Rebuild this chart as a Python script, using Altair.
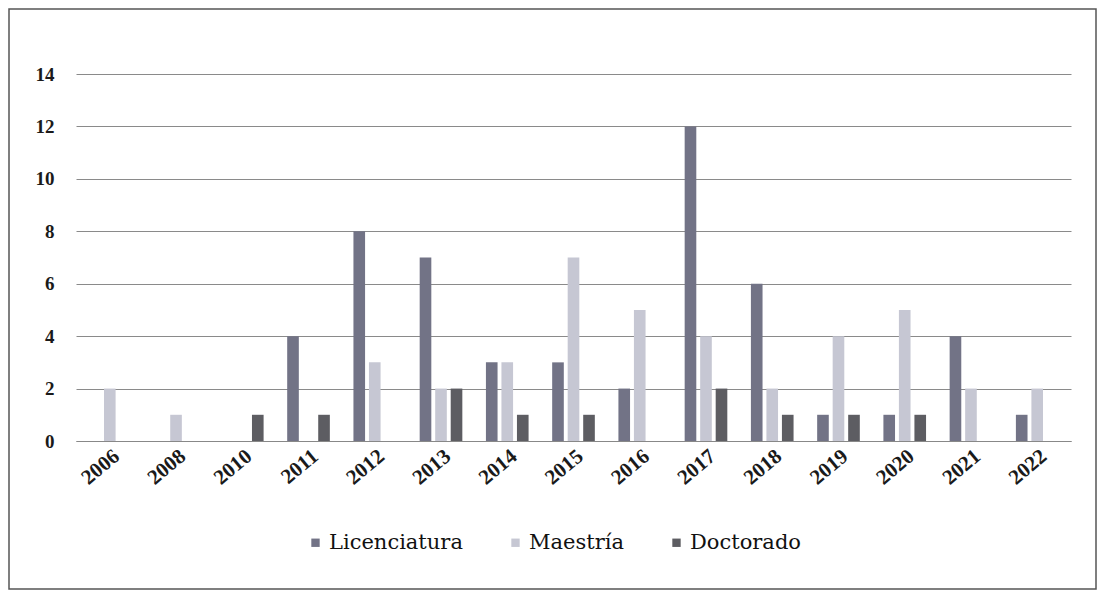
import altair as alt
import pandas as pd

years = ["2006", "2008", "2010", "2011", "2012", "2013", "2014", "2015",
         "2016", "2017", "2018", "2019", "2020", "2021", "2022"]
licenciatura = [0, 0, 0, 4, 8, 7, 3, 3, 2, 12, 6, 1, 1, 4, 1]
maestria = [2, 1, 0, 0, 3, 2, 3, 7, 5, 4, 2, 4, 5, 2, 2]
doctorado = [0, 0, 1, 1, 0, 2, 1, 1, 0, 2, 1, 1, 1, 0, 0]
series = ["Licenciatura", "Maestría", "Doctorado"]
colors = ["#727386", "#c6c7d3", "#5d5d62"]

rows = []
for i, y in enumerate(years):
    for s, vals in zip(series, [licenciatura, maestria, doctorado]):
        rows.append({"Año": y, "Nivel": s, "Valor": vals[i]})
df = pd.DataFrame(rows)

W, H = 995, 367
SERIF = "Liberation Serif"

bars = alt.Chart(df).mark_bar().encode(
    x=alt.X("Año:N", sort=years, title=None,
            scale=alt.Scale(paddingInner=0.30, paddingOuter=0.16),
            axis=alt.Axis(labelAngle=-40, ticks=False, labelPadding=4,
                          labelFont=SERIF, labelFontSize=21, labelFontWeight="bold",
                          labelColor="#1a1a1a", domainColor="#888888", grid=False)),
    xOffset=alt.XOffset("Nivel:N", sort=series,
                        scale=alt.Scale(paddingInner=0.25, paddingOuter=0.12)),
    y=alt.Y("Valor:Q", title=None,
            scale=alt.Scale(domain=[0, 14]),
            axis=alt.Axis(values=list(range(0, 15, 2)), ticks=False, domain=False,
                          labelPadding=22, labelFont=SERIF, labelFontSize=19,
                          labelFontWeight="bold", labelColor="#1a1a1a",
                          gridColor="#8a8a8a", gridWidth=1)),
    color=alt.Color("Nivel:N", sort=series,
                    scale=alt.Scale(domain=series, range=colors),
                    legend=alt.Legend(title=None, orient="none", direction="horizontal",
                                      legendX=229, legendY=458, symbolType="square",
                                      symbolSize=70, symbolStrokeWidth=0,
                                      labelFont="DejaVu Serif", labelFontSize=21,
                                      labelColor="#111111", columnPadding=42,
                                      labelOffset=3, padding=0)),
)

frame = alt.Chart(pd.DataFrame({"k": [0]})).mark_rect(
    fill=None, stroke="#555555", strokeWidth=1.5
).encode(
    x=alt.value(-67), x2=alt.value(W + 25),
    y=alt.value(-65), y2=alt.value(H + 148),
)

chart = alt.layer(bars, frame).properties(
    width=W, height=H, padding=0, background="white"
).configure(font=SERIF).configure_view(stroke=None)

chart.save("out.html", embed_options={"renderer": "svg", "actions": False})
